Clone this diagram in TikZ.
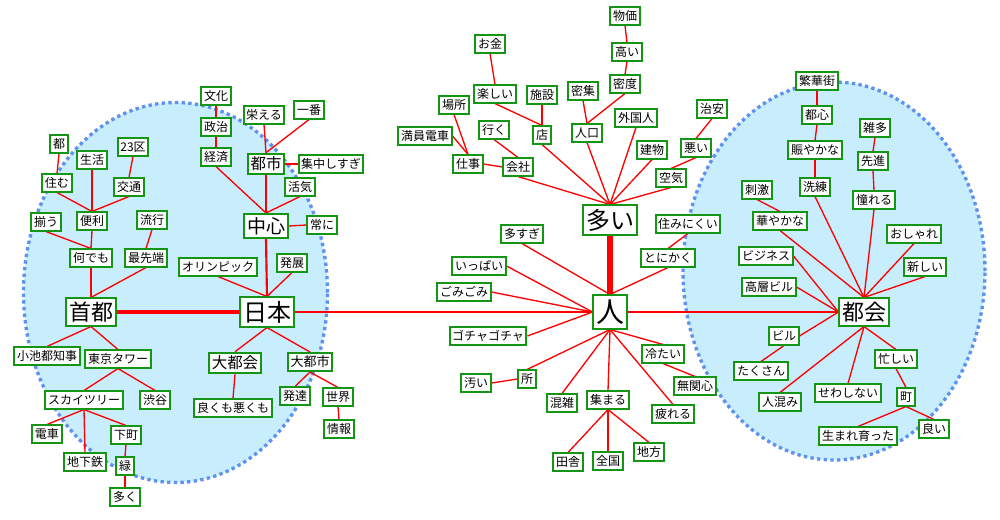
\documentclass[tikz,border=0pt]{standalone}
\usepackage{fontspec}
\setmainfont{Noto Sans CJK JP}
\definecolor{boxgreen}{RGB}{20,150,20}
\definecolor{edgered}{RGB}{255,0,0}
\definecolor{ellfill}{RGB}{200,237,252}
\definecolor{elldot}{RGB}{95,145,240}
\pgfdeclarelayer{bg}
\pgfdeclarelayer{edges}
\pgfsetlayers{bg,edges,main}
\tikzset{
  fsz/.style={font=\fontsize{#1}{#1}\selectfont, text height=0.88*#1, text depth=0.12*#1},
  wbox/.style={draw=boxgreen, fill=white, line width=1.5pt, inner sep=1.9pt, fsz=9pt},
  medbox/.style={wbox, fsz=11.6pt},
  midbox/.style={wbox, fsz=14.25pt},
  bigbox/.style={wbox, fsz=16.5pt},
  hugebox/.style={wbox, fsz=18pt},
  jinbox/.style={wbox, fsz=21pt},
  link/.style={draw=edgered, line width=1pt},
  thicklink/.style={draw=edgered, line width=#1},
  blob/.style={fill=ellfill, draw=elldot, line width=2.5pt, dash pattern=on 2.5pt off 2.5pt}
}
\begin{document}
\begin{tikzpicture}[x=0.75pt,y=-0.75pt]
\useasboundingbox (0,0) rectangle (1000,519);
\begin{pgfonlayer}{bg}
\fill[white] (0,0) rectangle (1000,519);
\path[blob] (175.5,292.5) ellipse [x radius=114pt, y radius=142.5pt];
\path[blob] (834,271) ellipse [x radius=113.25pt, y radius=141.75pt];
\end{pgfonlayer}
% left cluster
\node[wbox] (bunka) at (216,96) {文化};
\node[wbox] (seiji) at (216,127) {政治};
\node[wbox] (keizai) at (216,157) {経済};
\node[wbox] (sakaeru) at (264,115) {栄える};
\node[wbox] (ichiban) at (309,110) {一番};
\node[medbox] (toshi) at (266,164) {都市};
\node[wbox] (shuchu) at (331,164) {集中しすぎ};
\node[wbox] (kakki) at (300,187) {活気};
\node[midbox] (chushin) at (266,226) {中心};
\node[wbox] (tsuneni) at (322,225) {常に};
\node[wbox] (miyako) at (59,144) {都};
\node[wbox] (seikatsu) at (92,160) {生活};
\node[wbox] (ku23) at (133,147) {23区};
\node[wbox] (sumu) at (57,183) {住む};
\node[wbox] (kotsu) at (129,187) {交通};
\node[wbox] (sorou) at (46,222) {揃う};
\node[wbox] (benri) at (92,221) {便利};
\node[wbox] (ryuko) at (152,220) {流行};
\node[wbox] (nandemo) at (91,258) {何でも};
\node[wbox] (saisentan) at (146,258) {最先端};
\node[wbox] (olympic) at (218,267) {オリンピック};
\node[wbox] (hatten) at (292,263) {発展};
\node[bigbox] (shuto) at (91,312) {首都};
\node[hugebox] (nihon) at (267,312) {日本};
\node[wbox] (koike) at (47,356) {小池都知事};
\node[wbox] (tower) at (118,359) {東京タワー};
\node[medbox] (daitokai) at (235,363) {大都会};
\node[wbox, fsz=9.75pt] (daitoshi) at (310,362) {大都市};
\node[wbox] (tree) at (84,400) {スカイツリー};
\node[wbox] (shibuya) at (155,400) {渋谷};
\node[wbox] (yokumo) at (233,408) {良くも悪くも};
\node[wbox] (hattatsu) at (295,396) {発達};
\node[wbox] (sekai) at (338,397) {世界};
\node[wbox] (densha) at (47,434) {電車};
\node[wbox] (shitamachi) at (126,435) {下町};
\node[wbox] (chikatetsu) at (85,462) {地下鉄};
\node[wbox] (midori) at (125,466) {緑};
\node[wbox] (joho) at (339,429) {情報};
\node[wbox] (ooku) at (125,497) {多く};
% middle cluster
\node[wbox] (bukka) at (625,16) {物価};
\node[wbox] (takai) at (627,52) {高い};
\node[wbox] (mitsudo) at (625,84) {密度};
\node[wbox] (okane) at (490,44) {お金};
\node[wbox] (tanoshii) at (495,94) {楽しい};
\node[wbox] (shisetsu) at (542,95) {施設};
\node[wbox] (misshu) at (583,91) {密集};
\node[wbox] (basho) at (454,105) {場所};
\node[wbox] (manin) at (425,136) {満員電車};
\node[wbox] (iku) at (494,130) {行く};
\node[wbox] (mise) at (542,135) {店};
\node[wbox] (jinko) at (587,133) {人口};
\node[wbox] (gaikoku) at (636,118) {外国人};
\node[wbox] (chian) at (712,109) {治安};
\node[wbox] (tatemono) at (652,150) {建物};
\node[wbox] (warui) at (696,148) {悪い};
\node[wbox] (shigoto) at (468,164) {仕事};
\node[wbox] (kaisha) at (518,167) {会社};
\node[wbox] (kuki) at (671,178) {空気};
\node[hugebox] (ooi) at (610,220) {多い};
\node[wbox] (suminikui) at (688,224) {住みにくい};
\node[wbox] (tonikaku) at (668,258) {とにかく};
\node[wbox] (oosugi) at (522,234) {多すぎ};
\node[wbox] (ippai) at (479,266) {いっぱい};
\node[wbox] (gomigomi) at (464,292) {ごみごみ};
\node[jinbox] (hito) at (610,312) {人};
\node[wbox] (gocha) at (488,336) {ゴチャゴチャ};
\node[wbox] (tsumetai) at (663,354) {冷たい};
\node[wbox] (tokoro) at (527,379) {所};
\node[wbox] (kitanai) at (476,383) {汚い};
\node[wbox] (mukanshin) at (695,386) {無関心};
\node[wbox] (konzatsu) at (562,403) {混雑};
\node[wbox] (atsumaru) at (608,400) {集まる};
\node[wbox] (tsukareru) at (673,414) {疲れる};
\node[wbox] (chiho) at (649,452) {地方};
\node[wbox] (inaka) at (568,462) {田舎};
\node[wbox] (zenkoku) at (608,461) {全国};
% right cluster
\node[wbox] (hankagai) at (817,81) {繁華街};
\node[wbox] (toshin) at (817,115) {都心};
\node[wbox] (nigiyaka) at (815,150) {賑やかな};
\node[wbox] (senren) at (815,187) {洗練};
\node[wbox] (zatta) at (875,128) {雑多};
\node[wbox] (senshin) at (873,161) {先進};
\node[wbox] (akogareru) at (874,200) {憧れる};
\node[wbox] (shigeki) at (757,190) {刺激};
\node[wbox] (hanayaka) at (780,221) {華やかな};
\node[wbox] (oshare) at (914,234) {おしゃれ};
\node[wbox] (business) at (766,256) {ビジネス};
\node[wbox] (atarashii) at (925,267) {新しい};
\node[wbox] (koso) at (769,287) {高層ビル};
\node[bigbox] (tokai) at (864,312) {都会};
\node[wbox] (biru) at (784,336) {ビル};
\node[wbox] (takusan) at (761,371) {たくさん};
\node[wbox] (isogashii) at (896,359) {忙しい};
\node[wbox] (sewashinai) at (848,393) {せわしない};
\node[wbox] (machi) at (906,397) {町};
\node[wbox] (hitogomi) at (780,402) {人混み};
\node[wbox] (umare) at (858,436) {生まれ育った};
\node[wbox] (yoi) at (934,429) {良い};
\begin{pgfonlayer}{edges}
% left
\draw[link] (bunka.south) -- (seiji.north);
\draw[link] (seiji.south) -- (keizai.north);
\draw[link] (keizai.south) -- (chushin.north);
\draw[link] (sakaeru.south) -- (toshi.north);
\draw[link] (ichiban.south) -- (toshi.north);
\draw[link] (toshi.east) -- (shuchu.west);
\draw[link] (toshi.south) -- (chushin.north);
\draw[link] (kakki.south) -- (chushin.north);
\draw[link] (chushin.east) -- (tsuneni.west);
\draw[thicklink=1.6pt] (chushin.south) -- (nihon.north);
\draw[link] (miyako.south) -- (sumu.north);
\draw[link] (sumu.south) -- (benri.north);
\draw[link] (seikatsu.south) -- (benri.north);
\draw[link] (kotsu.south) -- (benri.north);
\draw[link] (ku23.south) -- (kotsu.north);
\draw[link] (sorou.south) -- (nandemo.north);
\draw[link] (benri.south) -- (nandemo.north);
\draw[link] (ryuko.south) -- (saisentan.north);
\draw[link] (nandemo.south) -- (shuto.north);
\draw[link] (saisentan.south) -- (shuto.north);
\draw[link] (olympic.south) -- (nihon.north);
\draw[link] (hatten.south) -- (nihon.north);
\draw[thicklink=2.4pt] (shuto.east) -- (nihon.west);
\draw[link] (nihon.east) -- (hito.west);
\draw[link] (shuto.south) -- (koike.north);
\draw[link] (shuto.south) -- (tower.north);
\draw[link] (tower.south) -- (tree.north);
\draw[link] (tower.south) -- (shibuya.north);
\draw[link] (tree.south) -- (densha.north);
\draw[link] (tree.south) -- (chikatetsu.north);
\draw[link] (tree.south) -- (shitamachi.north);
\draw[link] (shitamachi.south) -- (midori.north);
\draw[link] (midori.south) -- (ooku.north);
\draw[link] (nihon.south) -- (daitokai.north);
\draw[link] (nihon.south) -- (daitoshi.north);
\draw[link] (daitokai.south) -- (yokumo.north);
\draw[link] (daitoshi.south) -- (hattatsu.north);
\draw[link] (daitoshi.south) -- (sekai.north);
\draw[link] (sekai.south) -- (joho.north);
% middle
\draw[link] (bukka.south) -- (takai.north);
\draw[link] (takai.south) -- (mitsudo.north);
\draw[link] (mitsudo.south) -- (jinko.north);
\draw[link] (misshu.south) -- (jinko.north);
\draw[link] (okane.south) -- (tanoshii.north);
\draw[link] (tanoshii.south) -- (mise.north);
\draw[link] (shisetsu.south) -- (mise.north);
\draw[link] (basho.south) -- (shigoto.north);
\draw[link] (manin.east) -- (shigoto.north);
\draw[link] (shigoto.east) -- (kaisha.west);
\draw[link] (iku.south) -- (kaisha.north);
\draw[link] (chian.south) -- (warui.north);
\draw[link] (warui.south) -- (kuki.north);
\foreach \n in {kaisha,mise,jinko,gaikoku,tatemono,kuki}
  \draw[link] (\n.south) -- (ooi.north);
\draw[thicklink=5.2pt] (ooi.south) -- (hito.north);
\draw[link] (suminikui.south) -- (tonikaku.north);
\draw[link] (tonikaku.south) -- (hito.north);
\draw[link] (oosugi.south) -- (hito.north);
\draw[link] (ippai.east) -- (hito.west);
\draw[link] (gomigomi.east) -- (hito.west);
\draw[link] (gocha.east) -- (hito.west);
\draw[link] (hito.east) -- (tokai.west);
\foreach \n in {tokoro,konzatsu,atsumaru,tsukareru,tsumetai}
  \draw[link] (hito.south) -- (\n.north);
\draw[link] (tsumetai.south) -- (mukanshin.north);
\draw[link] (tokoro.west) -- (kitanai.east);
\foreach \n in {inaka,zenkoku,chiho}
  \draw[link] (atsumaru.south) -- (\n.north);
% right
\draw[link] (hankagai.south) -- (toshin.north);
\draw[link] (toshin.south) -- (nigiyaka.north);
\draw[link] (nigiyaka.south) -- (senren.north);
\draw[link] (zatta.south) -- (senshin.north);
\draw[link] (senshin.south) -- (akogareru.north);
\draw[link] (shigeki.south) -- (hanayaka.north);
\foreach \n in {senren,akogareru,hanayaka,oshare,atarashii}
  \draw[link] (\n.south) -- (tokai.north);
\draw[link] (business.east) -- (tokai.west);
\draw[link] (koso.east) -- (tokai.west);
\draw[link] (tokai.west) -- (biru.east);
\draw[link] (biru.south) -- (takusan.north);
\foreach \n in {hitogomi,sewashinai,isogashii}
  \draw[link] (tokai.south) -- (\n.north);
\draw[link] (isogashii.south) -- (machi.north);
\draw[link] (machi.south) -- (umare.north);
\draw[link] (machi.south) -- (yoi.north);
\end{pgfonlayer}
\end{tikzpicture}
\end{document}
